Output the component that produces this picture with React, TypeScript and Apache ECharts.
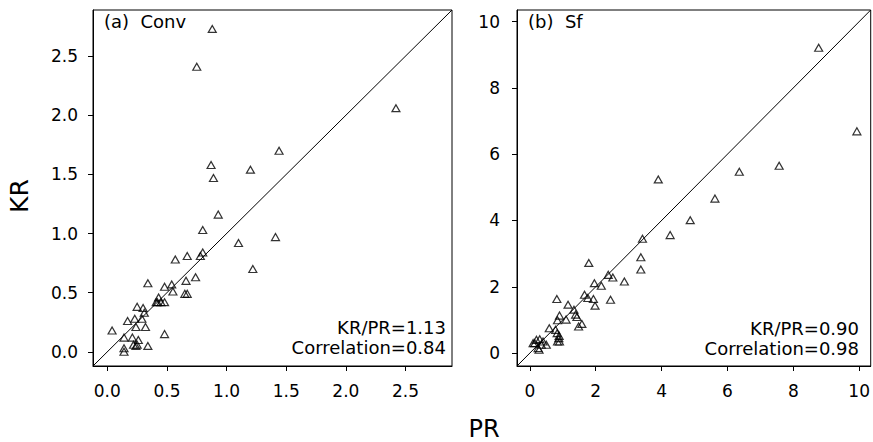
import React, { useEffect, useRef } from "react";
import * as echarts from "echarts";

// Panel (a) Conv: [PR, KR]
const convPoints: number[][] = [
  [0.88, 2.73], [0.75, 2.41], [2.42, 2.06], [1.44, 1.70], [0.87, 1.58],
  [1.20, 1.54], [0.89, 1.47], [0.93, 1.16], [0.80, 1.03], [1.10, 0.92],
  [1.41, 0.97], [0.80, 0.84], [0.78, 0.81], [0.67, 0.81], [0.57, 0.78],
  [1.22, 0.70], [0.74, 0.63], [0.66, 0.60], [0.34, 0.58], [0.54, 0.57],
  [0.48, 0.55], [0.55, 0.51], [0.65, 0.49], [0.67, 0.49], [0.43, 0.46],
  [0.41, 0.42], [0.42, 0.42], [0.45, 0.42], [0.48, 0.42], [0.25, 0.38],
  [0.30, 0.37], [0.31, 0.33], [0.23, 0.28], [0.17, 0.26], [0.29, 0.28],
  [0.24, 0.21], [0.32, 0.21], [0.04, 0.18], [0.48, 0.15], [0.14, 0.12],
  [0.21, 0.12], [0.26, 0.10], [0.34, 0.05], [0.22, 0.06], [0.24, 0.05],
  [0.25, 0.06], [0.14, 0.03], [0.14, 0.00],
];

// Panel (b) Sf: [PR, KR]
const sfPoints: number[][] = [
  [8.77, 9.21], [9.93, 6.69], [7.57, 5.65], [6.36, 5.47], [3.90, 5.24],
  [5.62, 4.66], [4.87, 4.01], [4.26, 3.56], [3.42, 3.45], [3.37, 2.89],
  [3.37, 2.52], [1.79, 2.72], [2.38, 2.36], [2.52, 2.28], [2.87, 2.16],
  [1.96, 2.11], [2.17, 2.03], [0.82, 1.63], [1.66, 1.76], [1.76, 1.66],
  [1.93, 1.63], [1.98, 1.43], [2.45, 1.61], [1.16, 1.46], [1.34, 1.31],
  [1.39, 1.16], [1.43, 1.09], [1.58, 0.88], [1.48, 0.80], [0.90, 1.13],
  [1.10, 1.01], [0.84, 0.99], [0.59, 0.75], [0.78, 0.70], [0.83, 0.60],
  [0.89, 0.52], [0.84, 0.35], [0.90, 0.35], [0.88, 0.45], [0.20, 0.40],
  [0.30, 0.42], [0.15, 0.30], [0.35, 0.25], [0.50, 0.25], [0.25, 0.15],
  [0.10, 0.30], [0.40, 0.35], [0.28, 0.10],
];

const convTicks = [0, 0.5, 1.0, 1.5, 2.0, 2.5];
const sfTicks = [0, 2, 4, 6, 8, 10];
const convRange = [-0.12, 2.89];
const sfRange = [-0.39, 10.35];

const panelTitles = ["(a)  Conv", "(b)  Sf"];
const ratioTexts = ["KR/PR=1.13", "KR/PR=0.90"];
const corrTexts = ["Correlation=0.84", "Correlation=0.98"];

const FONT = "DejaVu Sans";

export default function App() {
  const ref = useRef<HTMLDivElement>(null);

  useEffect(() => {
    if (!ref.current) return;
    const chart = echarts.init(ref.current, undefined, { renderer: "svg" });

    const axisCommon = (range: number[], ticks: number[], decimals: number, margin: number) => ({
      type: "value" as const,
      min: range[0],
      max: range[1],
      axisLine: { show: true, onZero: false, lineStyle: { color: "#000", width: 1 } },
      axisTick: {
        show: true,
        inside: false,
        length: 5,
        customValues: ticks,
        lineStyle: { color: "#000", width: 1 },
      },
      axisLabel: {
        show: true,
        customValues: ticks,
        margin,
        color: "#000",
        fontFamily: FONT,
        fontSize: 17,
        formatter: (v: number) => v.toFixed(decimals),
      },
      splitLine: { show: false },
    });

    const scatterStyle = {
      type: "scatter" as const,
      symbol: "triangle",
      symbolSize: [8, 7],
      itemStyle: { color: "rgba(255,255,255,0)", borderColor: "#000", borderWidth: 1.2 },
      silent: true,
    };

    chart.setOption({
      animation: false,
      backgroundColor: "#fff",
      grid: [
        { left: 93, top: 10, width: 359, height: 356, show: true, borderColor: "#000", borderWidth: 1, backgroundColor: "transparent" },
        { left: 517, top: 10, width: 355, height: 356, show: true, borderColor: "#000", borderWidth: 1, backgroundColor: "transparent" },
      ],
      xAxis: [
        { ...axisCommon(convRange, convTicks, 1, 16), gridIndex: 0 },
        { ...axisCommon(sfRange, sfTicks, 0, 16), gridIndex: 1 },
      ],
      yAxis: [
        { ...axisCommon(convRange, convTicks, 1, 15), gridIndex: 0 },
        { ...axisCommon(sfRange, sfTicks, 0, 17), gridIndex: 1 },
      ],
      series: [
        {
          type: "line",
          xAxisIndex: 0,
          yAxisIndex: 0,
          data: [[convRange[0], convRange[0]], [convRange[1], convRange[1]]],
          symbol: "none",
          lineStyle: { color: "#000", width: 1 },
          silent: true,
        },
        { ...scatterStyle, xAxisIndex: 0, yAxisIndex: 0, data: convPoints },
        {
          type: "line",
          xAxisIndex: 1,
          yAxisIndex: 1,
          data: [[sfRange[0], sfRange[0]], [sfRange[1], sfRange[1]]],
          symbol: "none",
          lineStyle: { color: "#000", width: 1 },
          silent: true,
        },
        { ...scatterStyle, xAxisIndex: 1, yAxisIndex: 1, data: sfPoints },
      ],
      graphic: [
        { type: "text", left: 104, top: 12, style: { text: panelTitles[0], font: `18px "${FONT}"`, fill: "#000" } },
        { type: "text", left: 528, top: 12, style: { text: panelTitles[1], font: `18px "${FONT}"`, fill: "#000" } },
        { type: "text", x: 446, y: 327, style: { text: ratioTexts[0], font: `18px "${FONT}"`, fill: "#000", align: "right", verticalAlign: "middle" } },
        { type: "text", x: 446, y: 347, style: { text: corrTexts[0], font: `18px "${FONT}"`, fill: "#000", align: "right", verticalAlign: "middle" } },
        { type: "text", x: 859, y: 328, style: { text: ratioTexts[1], font: `18px "${FONT}"`, fill: "#000", align: "right", verticalAlign: "middle" } },
        { type: "text", x: 859, y: 348, style: { text: corrTexts[1], font: `18px "${FONT}"`, fill: "#000", align: "right", verticalAlign: "middle" } },
        { type: "text", x: 484, y: 429, style: { text: "PR", font: `24px "${FONT}"`, fill: "#000", align: "center", verticalAlign: "middle" } },
        { type: "text", x: 19, y: 196, rotation: Math.PI / 2, style: { text: "KR", font: `25px "${FONT}"`, fill: "#000", align: "center", verticalAlign: "middle" } },
      ],
    });

    return () => chart.dispose();
  }, []);

  return (
    <div
      ref={ref}
      style={{ position: "fixed", left: 0, top: 0, width: 873, height: 442 }}
    />
  );
}
